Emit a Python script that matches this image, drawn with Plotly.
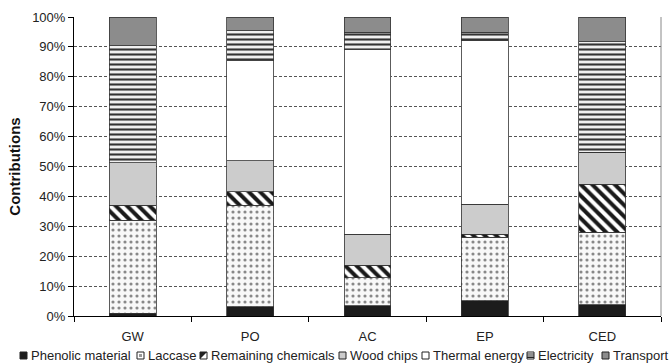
import plotly.graph_objects as go

categories = ["GW", "PO", "AC", "EP", "CED"]

phenolic_material = [1.0, 3.1, 3.4, 5.1, 3.8]
laccase = [31.1, 34.0, 9.4, 21.2, 24.2]
remaining_chemicals = [5.0, 4.5, 4.2, 1.0, 16.1]
wood_chips = [14.2, 10.3, 10.3, 10.1, 10.6]
thermal_energy = [0.0, 33.5, 61.9, 54.8, 0.0]
electricity = [39.1, 10.0, 5.7, 2.7, 37.0]
transport = [9.6, 4.6, 5.1, 5.1, 8.3]

series_names = ["Phenolic material", "Laccase", "Remaining chemicals", "Wood chips",
                "Thermal energy", "Electricity", "Transport"]
series_values = [phenolic_material, laccase, remaining_chemicals, wood_chips,
                 thermal_energy, electricity, transport]

y_ticks = [0, 10, 20, 30, 40, 50, 60, 70, 80, 90, 100]
y_tick_labels = [f"{v}%" for v in y_ticks]

FONT = "Liberation Sans, Arial, sans-serif"
OUT = "#333333"

styles = [
    dict(color="#1c1c1c"),
    dict(color="#f6f6f6", pattern=dict(shape=".", fgcolor="#888888", bgcolor="#f8f8f8",
                                       size=6, solidity=0.22, fillmode="replace")),
    dict(color="#ffffff", pattern=dict(shape="\\", fgcolor="#1a1a1a", bgcolor="#ffffff",
                                       size=8, solidity=0.5, fillmode="replace")),
    dict(color="#cccccc"),
    dict(color="#ffffff"),
    dict(color="#eeeeee", pattern=dict(shape="-", fgcolor="#333333", bgcolor="#f0f0f0",
                                       size=5, solidity=0.42, fillmode="replace")),
    dict(color="#8c8c8c"),
]

fig = go.Figure()
for name, vals, st in zip(series_names, series_values, styles):
    marker = dict(line=dict(color=OUT, width=0.8))
    marker.update(st)
    fig.add_trace(go.Bar(x=categories, y=vals, name=name, marker=marker, showlegend=False))

# plot area in pixels
L, R, T, B = 74, 661, 17, 316
W, H = 670, 363
PW, PH = R - L, B - T


def px_x(px):
    return (px - L) / PW


def px_y(py):
    return (B - py) / PH


fig.update_layout(
    width=W, height=H,
    margin=dict(l=L, r=W - R, t=T, b=H - B, pad=0, autoexpand=False),
    barmode="stack",
    bargap=0.6,
    plot_bgcolor="white",
    paper_bgcolor="white",
    font=dict(family=FONT, size=13, color="#222222"),
)
fig.update_xaxes(
    type="category",
    showline=True, linecolor="#000000", linewidth=1,
    ticks="outside", tickson="boundaries", ticklen=5, tickcolor="#000000",
    ticklabelstandoff=8,
    showgrid=False,
    tickfont=dict(size=13, family=FONT, color="#222222"),
)
fig.update_yaxes(
    range=[0, 100],
    tickvals=y_ticks, ticktext=y_tick_labels,
    showline=True, linecolor="#000000", linewidth=1,
    ticks="outside", ticklen=5, tickcolor="#000000",
    showgrid=True, gridcolor="#555555", gridwidth=1, griddash="3px,2px",
    zeroline=False,
    tickfont=dict(size=13, family=FONT, color="#222222"),
    title=dict(text="<b>Contributions</b>", font=dict(size=15, family=FONT, color="#111111"),
               standoff=7),
)

shapes = []
# right frame line
shapes.append(dict(type="line", xref="paper", yref="paper", x0=1, x1=1, y0=0, y1=1,
                   line=dict(color="#888888", width=1)))

# custom single-row legend
sym_px = [20, 137, 200, 339, 422, 527, 602]
sym_size = 7
cy = 355.5
annotations = []
for i, (name, sx) in enumerate(zip(series_names, sym_px)):
    x0, x1 = px_x(sx), px_x(sx + sym_size)
    y0, y1 = px_y(cy + sym_size / 2), px_y(cy - sym_size / 2)
    fill = ["#1c1c1c", "#ffffff", "#ffffff", "#cccccc", "#ffffff", "#ffffff", "#8c8c8c"][i]
    shapes.append(dict(type="rect", xref="paper", yref="paper", x0=x0, x1=x1, y0=y0, y1=y1,
                       fillcolor=fill, line=dict(color="#222222", width=1)))
    if i == 1:
        shapes.append(dict(type="rect", xref="paper", yref="paper",
                           x0=px_x(sx + 2), x1=px_x(sx + sym_size - 2),
                           y0=px_y(cy + 1.5), y1=px_y(cy - 1.5),
                           fillcolor="#999999", line=dict(width=0)))
    if i == 2:
        path = (f"M {px_x(sx)} {px_y(cy - sym_size/2)} L {px_x(sx + sym_size)} {px_y(cy - sym_size/2)} "
                f"L {px_x(sx)} {px_y(cy + sym_size/2)} Z")
        shapes.append(dict(type="path", xref="paper", yref="paper", path=path,
                           fillcolor="#222222", line=dict(width=0)))
    if i == 5:
        for dy in (-1.5, 0.5, 2.0):
            shapes.append(dict(type="line", xref="paper", yref="paper",
                               x0=x0, x1=x1, y0=px_y(cy + dy), y1=px_y(cy + dy),
                               line=dict(color="#222222", width=1)))
    annotations.append(dict(text=name, xref="paper", yref="paper",
                            x=px_x(sx + sym_size + 2.5), y=px_y(cy),
                            xanchor="left", yanchor="middle", showarrow=False,
                            borderpad=0, font=dict(size=13, family=FONT, color="#222222")))

fig.update_layout(shapes=shapes, annotations=annotations)

fig.write_html("out.html",
               config={"displayModeBar": False},
               post_script="document.body.style.margin='0';document.body.style.overflow='hidden';")
